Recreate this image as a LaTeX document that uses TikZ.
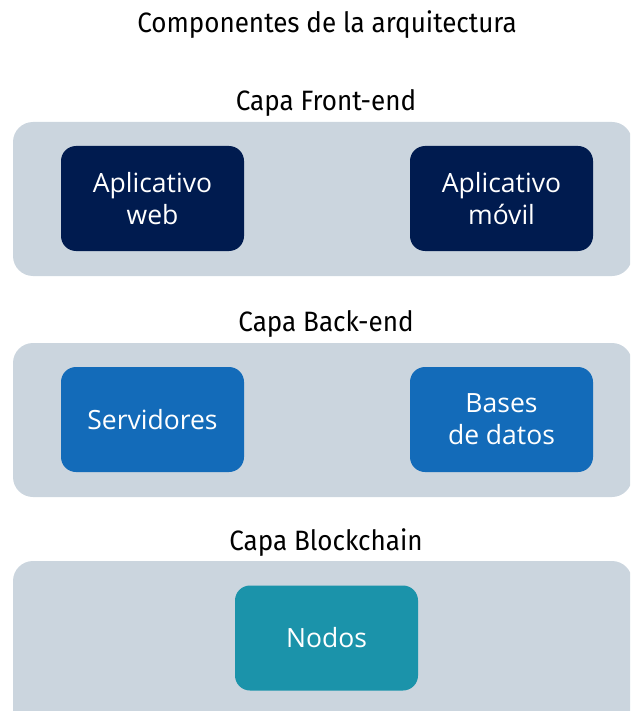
\documentclass[tikz,border=0pt]{standalone}
\usepackage{fontspec}
\setmainfont{Open Sans}
\newfontfamily\headfont{Fira Sans}[FakeStretch=0.93]
\definecolor{panelc}{HTML}{CBD5DE}
\definecolor{navyc}{HTML}{001B4F}
\definecolor{bluec}{HTML}{136BB9}
\definecolor{tealc}{HTML}{1B93AA}
\definecolor{textc}{HTML}{000000}
\tikzset{
  panel/.style={fill=panelc, draw=none, rounded corners=20pt},
  compbox/.style={draw=none, rounded corners=15pt, minimum width=183pt, minimum height=105pt,
    text=white, align=center, font=\fontsize{26.5}{32}\selectfont, inner sep=0pt},
  heading/.style={text=textc, font=\headfont\fontsize{28}{32}\selectfont, anchor=base, inner sep=0pt},
}
\begin{document}
\begin{tikzpicture}[x=1pt,y=-1pt]
\useasboundingbox (0,0) rectangle (630,711);
\clip (0,0) rectangle (630,711);
% title and headings
\node[heading] (title) at (327,33) {Componentes de la arquitectura};
\node[heading] (hfront) at (326,111) {Capa Front-end};
\node[heading] (hback) at (326,331) {Capa Back-end};
\node[heading] (hchain) at (326,550) {Capa Blockchain};
% panels
\fill[panel] (13,122) rectangle (632,276);
\fill[panel] (13,343) rectangle (632,497);
\fill[panel] (13,561) rectangle (632,740);
% components
\node[compbox, fill=navyc] (web) at (152.5,198.5) {Aplicativo\\web};
\node[compbox, fill=navyc] (movil) at (501.5,198.5) {Aplicativo\\móvil};
\node[compbox, fill=bluec] (serv) at (152.5,419.5) {Servidores};
\node[compbox, fill=bluec] (bases) at (501.5,419.5) {Bases\\de datos};
\node[compbox, fill=tealc] (nodos) at (326.5,638) {Nodos};
\end{tikzpicture}
\end{document}
